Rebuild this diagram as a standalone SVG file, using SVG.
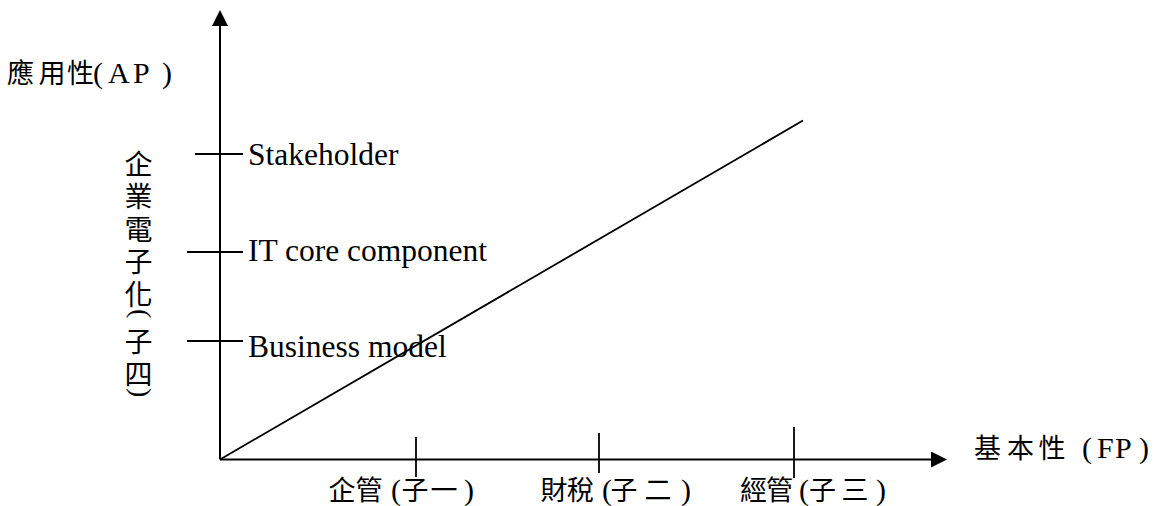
<svg xmlns="http://www.w3.org/2000/svg" width="1154" height="506" viewBox="0 0 1154 506">
  <style>
    .bg { fill: #ffffff; }
    .axis { stroke: #000; stroke-width: 2; fill: none; }
    .line { stroke: #000; stroke-width: 1.8; fill: none; }
    .tick { stroke: #000; stroke-width: 1.8; fill: none; }
    .latin { font-family: "Liberation Serif", "Times New Roman", serif; font-size: 31.5px; fill: #000; }
    .cjk { font-family: "Liberation Serif", "Noto Sans CJK TC", serif; font-size: 27px; fill: #000; }
    .vert { font-family: "Liberation Serif", "Noto Sans CJK TC", serif; font-size: 28px; fill: #000; }
    .par { font-family: "Liberation Serif", "Times New Roman", serif; font-size: 30px; }
    .vpar { font-family: "Liberation Serif", "Times New Roman", serif; font-size: 28px; fill: #000; }
  </style>
  <defs>
    <marker id="arrow" markerUnits="userSpaceOnUse" markerWidth="16" markerHeight="16"
            viewBox="0 0 16 16" refX="12" refY="8" orient="auto">
      <path d="M0,0 L16,8 L0,16 Z" fill="#000"/>
    </marker>
  </defs>

  <rect class="bg" x="0" y="0" width="1154" height="506"/>

  <!-- axes and trend line -->
  <g id="connectors">
    <line class="axis" x1="220" y1="459.5" x2="220" y2="14" marker-end="url(#arrow)"/>
    <line class="axis" x1="220" y1="459.5" x2="943" y2="459.5" marker-end="url(#arrow)"/>
    <line class="line" x1="220" y1="459.5" x2="803" y2="120.5"/>
  </g>

  <!-- axis titles -->
  <g id="y-axis-title">
    <text class="cjk" x="7 38.5 67 93 108 133 162" y="83">應用性<tspan class="par">(AP)</tspan></text>
  </g>
  <g id="x-axis-title">
    <text class="cjk" x="974 1007 1038.5 1082 1097 1115 1139" y="458">基本性<tspan class="par">(FP)</tspan></text>
  </g>
  <!-- vertical caption: glyphs stacked top to bottom, brackets turned a quarter turn -->
  <g id="y-group-title">
    <text class="vert" x="124.5 124.5 124.5 124.5 124.5" y="174.6 207.1 239.6 272.1 304.6">企業電子化</text>
    <text class="vpar" transform="translate(131.5 309) rotate(90)">(</text>
    <text class="vert" x="124.5 124.5" y="351.6 384.6">子四</text>
    <text class="vpar" transform="translate(131.5 388) rotate(90)">)</text>
  </g>

  <!-- vertical-axis levels -->
  <g id="level-stakeholder">
    <line class="tick" x1="195" y1="154" x2="243" y2="154"/>
    <text class="latin" x="248" y="165">Stakeholder</text>
  </g>
  <g id="level-it-core">
    <line class="tick" x1="187" y1="252" x2="243" y2="252"/>
    <text class="latin" x="248" y="260.5">IT core component</text>
  </g>
  <g id="level-business-model">
    <line class="tick" x1="187" y1="341" x2="243" y2="341"/>
    <text class="latin" x="248" y="356.5">Business model</text>
  </g>

  <!-- horizontal-axis categories -->
  <g id="cat-1">
    <line class="tick" x1="416" y1="437" x2="416" y2="477"/>
    <text class="cjk" x="328.5 355.5 391 401.5 430.5 464" y="500">企管<tspan class="par">(</tspan>子一<tspan class="par">)</tspan></text>
  </g>
  <g id="cat-2">
    <line class="tick" x1="599" y1="433" x2="599" y2="473"/>
    <text class="cjk" x="540.5 567 602 610.5 644.5 681" y="500">財稅<tspan class="par">(</tspan>子二<tspan class="par">)</tspan></text>
  </g>
  <g id="cat-3">
    <line class="tick" x1="794" y1="427" x2="794" y2="478"/>
    <text class="cjk" x="740 766 799 809 841.5 876" y="500">經管<tspan class="par">(</tspan>子三<tspan class="par">)</tspan></text>
  </g>
</svg>
